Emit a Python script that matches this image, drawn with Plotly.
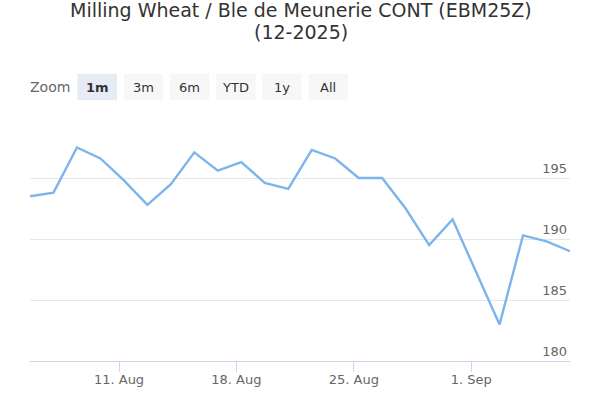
import pandas as pd
import plotly.graph_objects as go

# ---- data ----
dates = ["2025-08-05", "2025-08-06", "2025-08-07", "2025-08-08",
         "2025-08-11", "2025-08-12", "2025-08-13", "2025-08-14", "2025-08-15",
         "2025-08-18", "2025-08-19", "2025-08-20", "2025-08-21", "2025-08-22",
         "2025-08-25", "2025-08-26", "2025-08-27", "2025-08-28", "2025-08-29",
         "2025-09-01", "2025-09-02", "2025-09-03", "2025-09-04", "2025-09-05"]
prices = [193.5, 193.8, 197.5, 196.6, 194.8, 192.8, 194.5, 197.1, 195.6,
          196.3, 194.6, 194.1, 197.3, 196.6, 195.0, 195.0, 192.5, 189.5,
          191.6, 187.3, 183.0, 190.3, 189.8, 189.0]
tick_dates = ["2025-08-11", "2025-08-18", "2025-08-25", "2025-09-01"]
tick_labels = ["11. Aug", "18. Aug", "25. Aug", "1. Sep"]
y_ticks = [180, 185, 190, 195, 200]
y_labels = ["180", "185", "190", "195", ""]
buttons = ["1m", "3m", "6m", "YTD", "1y", "All"]
selected = "1m"
title_lines = ["Milling Wheat / Ble de Meunerie CONT (EBM25Z)", "(12-2025)"]

FONT = "DejaVu Sans"
W, H = 593, 393
ML, MR, MT, MB = 30, 23, 117, 32
plot_w = W - ML - MR
plot_h = H - MT - MB


def px_x(p):
    return (p - ML) / plot_w


def px_y(p):
    return (H - MB - p) / plot_h


# data points are stamped early in the trading day
x = pd.to_datetime(dates) + pd.Timedelta(hours=5)

fig = go.Figure()
fig.add_trace(go.Scatter(x=x, y=prices, mode="lines",
                         line=dict(color="#7cb5ec", width=2.4),
                         hoverinfo="x+y"))

fig.update_layout(
    width=W, height=H,
    margin=dict(l=ML, r=MR, t=MT, b=MB, autoexpand=False),
    paper_bgcolor="white", plot_bgcolor="white",
    showlegend=False,
    font=dict(family=FONT, color="#666666", size=13),
    xaxis=dict(type="date", range=[x[0], x[-1]], automargin=False,
               rangebreaks=[dict(bounds=["sat", "mon"])],
               tickvals=pd.to_datetime(tick_dates), ticktext=tick_labels,
               showgrid=False, showline=True, linecolor="#ccd6eb", linewidth=1,
               ticks="outside", ticklen=10, tickcolor="#ccd6eb",
               ticklabelstandoff=-4,
               tickfont=dict(size=13, color="#666666"), zeroline=False),
    yaxis=dict(range=[180, 200], side="right", tickvals=y_ticks, ticktext=y_labels,
               automargin=False,
               ticklabelposition="inside top", showgrid=True, gridcolor="#e6e6e6",
               gridwidth=1, zeroline=False, showline=False, ticks="",
               tickfont=dict(size=13, color="#666666")),
)

# title
for txt, yc in zip(title_lines, [10, 32]):
    fig.add_annotation(text=txt, xref="paper", yref="paper", x=px_x(W / 2 + 4), xanchor="center",
                       y=px_y(yc), yanchor="middle", showarrow=False,
                       font=dict(family=FONT, size=19, color="#333333"))

# range selector look-alike
fig.add_annotation(text="Zoom", xref="paper", yref="paper", x=0, xanchor="left", xshift=-2,
                   y=px_y(87), yanchor="middle", showarrow=False,
                   font=dict(family=FONT, size=14, color="#666666"))
bx0 = 77.5
bw, gap = 39.5, 46.2
for i, b in enumerate(buttons):
    left = bx0 + i * gap
    x0, x1 = px_x(left), px_x(left + bw)
    y0, y1 = px_y(100.3), px_y(73.7)
    fig.add_shape(type="rect", xref="paper", yref="paper", x0=x0, x1=x1, y0=y0, y1=y1,
                  fillcolor="#e6ebf5" if b == selected else "#f7f7f7",
                  line=dict(width=0), layer="below")
    fig.add_annotation(text=f"<b>{b}</b>" if b == selected else b,
                       xref="paper", yref="paper", x=(x0 + x1) / 2, y=(y0 + y1) / 2,
                       xanchor="center", yanchor="middle", showarrow=False,
                       font=dict(family=FONT, size=13, color="#333333"))

fig.write_html("out.html")
